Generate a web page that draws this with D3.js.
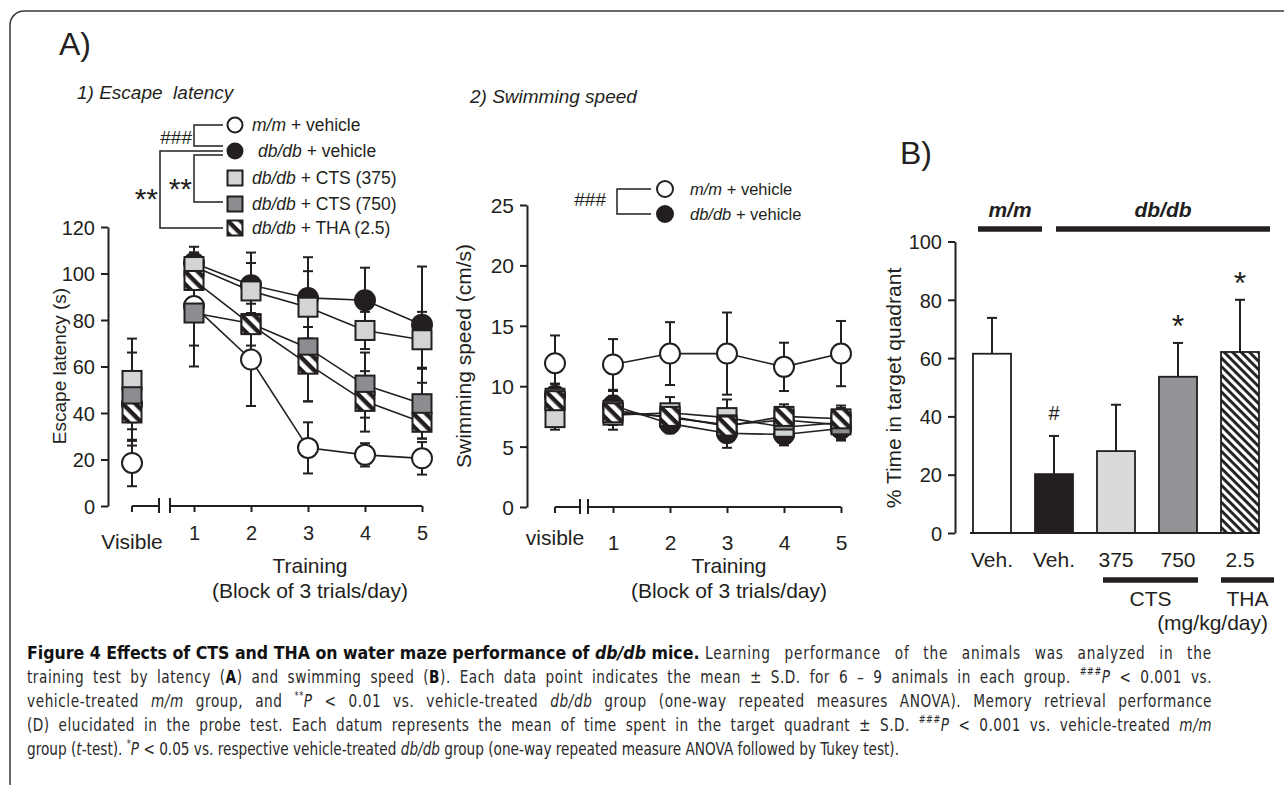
<!DOCTYPE html>
<html>
<head>
<meta charset="utf-8">
<script src="https://cdn.jsdelivr.net/npm/d3@7"></script>
<style>
  body { margin: 0; background: #fff; }
  svg text { font-family: "Liberation Sans", Arial, sans-serif; fill: #231f20; }
</style>
</head>
<body>
<svg id="fig" width="1284" height="785"></svg>
<script>
// ---------------- data ----------------
// index 0 = visible platform, 1..5 = training blocks
var blocks = [1, 2, 3, 4, 5];
var seriesKeys = ["mm", "db", "c375", "c750", "tha"];
var legendItalic = ["m/m", "db/db", "db/db", "db/db", "db/db"];
var legendRest = [" + vehicle", " + vehicle", " + CTS (375)", " + CTS (750)", " + THA (2.5)"];

// 1) escape latency (s)
var latMM = [18.5, 86, 63, 25, 22, 20.5],    latMMsd = [10, 17, 20, 11, 5, 7];
var latDB = [44, 104.5, 95, 89.5, 88.5, 78], latDBsd = [11, 7, 14, 17.5, 14, 25];
var lat375 = [54, 103, 92.5, 85.5, 75.5, 71.5], lat375sd = [18, 6, 12, 15.5, 8, 12];
var lat750 = [47, 83, 78.5, 68, 52, 44],     lat750sd = [19, 23, 12, 23, 14, 15];
var latTHA = [40, 97, 78, 61, 45, 36],       latTHAsd = [14, 12, 9, 16, 13, 7];

// 2) swimming speed (cm/s)
var spdMM = [11.9, 11.8, 12.7, 12.7, 11.6, 12.7], spdMMsd = [2.3, 2.1, 2.6, 3.4, 2.0, 2.7];
var spdDB = [9.2, 8.4, 6.9, 6.1, 6.0, 6.5],       spdDBsd = [1.0, 1.2, 0.8, 1.2, 0.9, 1.0];
var spd375 = [7.4, 7.6, 7.8, 7.4, 6.6, 7.0],      spd375sd = [1.0, 1.2, 1.3, 1.5, 1.1, 1.2];
var spd750 = [9.0, 8.0, 7.4, 6.8, 7.2, 6.8],      spd750sd = [1.2, 1.2, 1.0, 1.3, 1.0, 1.2];
var spdTHA = [8.8, 7.8, 7.5, 6.7, 7.5, 7.3],      spdTHAsd = [1.0, 1.0, 1.0, 1.1, 1.0, 1.1];

// B) probe test, % time in target quadrant
var probeCats = ["Veh.", "Veh.", "375", "750", "2.5"];
var probeMean = [61.5, 20.2, 28.1, 53.6, 62.1];
var probeSD = [12.3, 13.1, 15.9, 11.6, 17.9];
var probeSig = ["", "#", "", "*", "*"];

var INK = "#231f20";
var fills = { mm: "#ffffff", db: INK, c375: "#d3d4d6", c750: "#8b8d90", tha: "url(#hatchS)" };

var svg = d3.select("#fig");
var defs = svg.append("defs");

// small hatch for THA squares (local marker coords)
var pS = defs.append("pattern").attr("id", "hatchS").attr("patternUnits", "userSpaceOnUse")
  .attr("width", 9).attr("height", 9).attr("y", -2.2).attr("patternTransform", "rotate(45)");
pS.append("rect").attr("width", 9).attr("height", 9).attr("fill", "#fff");
pS.append("rect").attr("width", 9).attr("height", 4.4).attr("fill", INK);
// bar hatch
var pB = defs.append("pattern").attr("id", "hatchB").attr("patternUnits", "userSpaceOnUse")
  .attr("width", 6).attr("height", 6).attr("patternTransform", "rotate(45)");
pB.append("rect").attr("width", 6).attr("height", 6).attr("fill", "#fff");
pB.append("rect").attr("width", 6).attr("height", 2.9).attr("fill", INK);

// frame
svg.append("rect").attr("x", 10).attr("y", 11).attr("width", 1300).attr("height", 820)
  .attr("rx", 14).attr("fill", "none").attr("stroke", "#3a3a3a").attr("stroke-width", 1.5);

function marker(sel, key, h) {
  if (key === "mm" || key === "db") {
    sel.append("circle").attr("r", h).attr("fill", fills[key])
      .attr("stroke", INK).attr("stroke-width", 2);
  } else {
    sel.append("rect").attr("x", -h).attr("y", -h).attr("width", 2 * h).attr("height", 2 * h)
      .attr("fill", fills[key]).attr("stroke", INK).attr("stroke-width", 2);
  }
}

function styleAxis(g, fs) {
  g.attr("font-size", fs).attr("font-family", "Liberation Sans, Arial, sans-serif");
  g.selectAll("path,line").attr("stroke", INK).attr("stroke-width", 2);
}

function linePanel(cfg) {
  var g = svg.append("g");
  var x = d3.scaleLinear().domain([1, 5]).range(cfg.xr);
  var y = d3.scaleLinear().domain([0, cfg.ymax]).range(cfg.yr);
  var xv = x(1) - cfg.visGap;
  var px = function (i) { return i === 0 ? xv : x(blocks[i - 1]); };
  var y0 = y(0);

  // y axis
  var ya = g.append("g").attr("transform", "translate(" + cfg.axisX + ",0)")
    .call(d3.axisLeft(y).tickValues(cfg.yticks).tickSize(7).tickSizeOuter(0).tickPadding(6));
  styleAxis(ya, cfg.tickFs);
  ya.selectAll("text").attr("dy", "0.36em");

  // x axis with break
  var xa = g.append("g").attr("transform", "translate(0," + y0 + ")")
    .call(d3.axisBottom(x).tickValues(blocks).tickFormat(d3.format("d"))
      .tickSize(6).tickSizeOuter(0).tickPadding(cfg.numPad));
  styleAxis(xa, cfg.tickFs);
  xa.select(".domain").remove();
  xa.append("line").attr("x1", cfg.brk[1]).attr("x2", x(5)).attr("stroke", INK).attr("stroke-width", 2);
  xa.append("line").attr("x1", xv).attr("x2", cfg.brk[0]).attr("stroke", INK).attr("stroke-width", 2);
  xa.append("line").attr("x1", xv).attr("x2", xv).attr("y2", 6).attr("stroke", INK).attr("stroke-width", 2);
  cfg.brk.forEach(function (b) {
    xa.append("line").attr("x1", b).attr("x2", b).attr("y1", -8).attr("y2", 7)
      .attr("stroke", INK).attr("stroke-width", 2);
  });
  g.append("text").attr("x", xv).attr("y", cfg.visBase).attr("text-anchor", "middle")
    .attr("font-size", 21).text(cfg.visText);
  g.append("text").attr("x", x(3) + 2).attr("y", 573).attr("text-anchor", "middle")
    .attr("font-size", 21).text("Training");
  g.append("text").attr("x", x(3) + 2).attr("y", 598).attr("text-anchor", "middle")
    .attr("font-size", 21).text("(Block of 3 trials/day)");

  // y label
  g.append("text").attr("transform", "translate(" + cfg.ylab[0] + "," + cfg.ylab[1] + ") rotate(-90)")
    .attr("dy", "0.36em").attr("text-anchor", "middle").attr("font-size", cfg.ylabFs).text(cfg.ytitle);
  // title
  g.append("text").attr("x", cfg.title[0]).attr("y", cfg.title[1]).attr("font-size", 19)
    .attr("font-style", "italic").style("white-space", "pre").text(cfg.titleText);

  // connecting lines (training blocks only)
  var line = d3.line().x(function (d) { return px(d.i); }).y(function (d) { return y(d.m); });
  cfg.series.forEach(function (s) {
    var pts = s.mean.map(function (m, i) { return { i: i, m: m }; }).slice(1);
    g.append("path").attr("d", line(pts)).attr("fill", "none")
      .attr("stroke", INK).attr("stroke-width", 1.6);
  });
  // error bars
  cfg.series.forEach(function (s) {
    s.mean.forEach(function (m, i) {
      var xx = px(i), lo = y(m - s.sd[i]), hi = y(m + s.sd[i]);
      var eb = g.append("g").attr("stroke", INK).attr("stroke-width", 2);
      eb.append("line").attr("x1", xx).attr("x2", xx).attr("y1", lo).attr("y2", hi);
      eb.append("line").attr("x1", xx - 5).attr("x2", xx + 5).attr("y1", lo).attr("y2", lo);
      eb.append("line").attr("x1", xx - 5).attr("x2", xx + 5).attr("y1", hi).attr("y2", hi);
    });
  });
  // markers
  cfg.series.forEach(function (s) {
    s.mean.forEach(function (m, i) {
      var mk = g.append("g").attr("transform", "translate(" + px(i) + "," + y(m) + ")");
      marker(mk, s.key, cfg.markH[s.key === "mm" || s.key === "db" ? 0 : 1]);
    });
  });
  return g;
}

var latSeries = [
  { key: "mm", mean: latMM, sd: latMMsd }, { key: "db", mean: latDB, sd: latDBsd },
  { key: "c375", mean: lat375, sd: lat375sd }, { key: "c750", mean: lat750, sd: lat750sd },
  { key: "tha", mean: latTHA, sd: latTHAsd }];
var spdSeries = [
  { key: "mm", mean: spdMM, sd: spdMMsd }, { key: "db", mean: spdDB, sd: spdDBsd },
  { key: "c375", mean: spd375, sd: spd375sd }, { key: "c750", mean: spd750, sd: spd750sd },
  { key: "tha", mean: spdTHA, sd: spdTHAsd }];

linePanel({
  series: latSeries, axisX: 108, xr: [194, 422], yr: [506, 227], ymax: 120,
  yticks: [0, 20, 40, 60, 80, 100, 120], tickFs: 20, visGap: 62, brk: [159, 170],
  numPad: 14, visBase: 549, visText: "Visible", ylab: [59, 366], ylabFs: 19,
  ytitle: "Escape latency (s)", title: [77, 99], titleText: "1) Escape  latency", markH: [10, 9.5]
});
linePanel({
  series: spdSeries, axisX: 527, xr: [613, 841], yr: [507, 205], ymax: 25,
  yticks: [0, 5, 10, 15, 20, 25], tickFs: 21, visGap: 58, brk: [580, 588],
  numPad: 22, visBase: 545, visText: "visible", ylab: [463, 356], ylabFs: 21,
  ytitle: "Swimming speed (cm/s)", title: [470, 103], titleText: "2) Swimming speed", markH: [10, 9.5]
});

// panel letters
svg.append("text").attr("x", 59).attr("y", 55).attr("font-size", 32).text("A)");
svg.append("text").attr("x", 900).attr("y", 164).attr("font-size", 32).text("B)");

// ---- legend, panel 1 ----
var legRows = [125, 151, 178, 204, 228];
var leg1 = svg.append("g");
seriesKeys.forEach(function (k, i) {
  var mk = leg1.append("g").attr("transform", "translate(235," + legRows[i] + ")");
  marker(mk, k, 7.5);
  var t = leg1.append("text").attr("x", i === 1 ? 258 : 252).attr("y", legRows[i]).attr("dy", "0.36em")
    .attr("font-size", 17.5);
  t.append("tspan").attr("font-style", "italic").text(legendItalic[i]);
  t.append("tspan").text(legendRest[i]);
});
function bracket(g, xv, y1, y2, xe) {
  g.append("path").attr("d", "M" + xe + "," + y1 + "H" + xv + "V" + y2 + "H" + xe)
    .attr("fill", "none").attr("stroke", INK).attr("stroke-width", 1.5);
}
bracket(leg1, 194, legRows[0], 146, 223);
bracket(leg1, 160, legRows[1], legRows[4], 223);
bracket(leg1, 194, 155, 202, 223);
leg1.append("text").attr("x", 192).attr("y", 137).attr("dy", "0.36em").attr("text-anchor", "end")
  .attr("font-size", 19).text("###");
leg1.append("text").attr("x", 158).attr("y", 192 + 17).attr("text-anchor", "end")
  .attr("font-size", 30).text("**");
leg1.append("text").attr("x", 192).attr("y", 182 + 17).attr("text-anchor", "end")
  .attr("font-size", 30).text("**");

// ---- legend, panel 2 ----
var leg2Rows = [189, 214];
var leg2 = svg.append("g");
[0, 1].forEach(function (i) {
  var mk = leg2.append("g").attr("transform", "translate(665," + leg2Rows[i] + ")");
  marker(mk, seriesKeys[i], 8);
  var t = leg2.append("text").attr("x", 690).attr("y", leg2Rows[i]).attr("dy", "0.36em").attr("font-size", 16.5);
  t.append("tspan").attr("font-style", "italic").text(legendItalic[i]);
  t.append("tspan").text(legendRest[i]);
});
bracket(leg2, 617, leg2Rows[0], leg2Rows[1], 651);
leg2.append("text").attr("x", 606).attr("y", 199).attr("dy", "0.36em").attr("text-anchor", "end")
  .attr("font-size", 19).text("###");

// ---- panel B ----
var gB = svg.append("g");
var yB = d3.scaleLinear().domain([0, 100]).range([533, 241.5]);
var xB = d3.scaleBand().domain(d3.range(probeCats.length)).range([961, 1271])
  .paddingInner(0.387).paddingOuter(0.1935);
var bw = xB.bandwidth();
var barFill = ["#ffffff", INK, "#d9dadb", "#929497", "url(#hatchB)"];

var yaB = gB.append("g").attr("transform", "translate(955,0)")
  .call(d3.axisLeft(yB).tickValues([0, 20, 40, 60, 80, 100]).tickSize(7).tickSizeOuter(0).tickPadding(6));
styleAxis(yaB, 20);
yaB.selectAll("text").attr("dy", "0.36em");
gB.append("text").attr("transform", "translate(893,388) rotate(-90)").attr("dy", "0.36em")
  .attr("text-anchor", "middle").attr("font-size", 21).text("% Time in target quadrant");

probeMean.forEach(function (v, i) {
  var cx = xB(i) + bw / 2, top = yB(v), et = yB(v + probeSD[i]);
  gB.append("line").attr("x1", cx).attr("x2", cx).attr("y1", top).attr("y2", et)
    .attr("stroke", INK).attr("stroke-width", 2);
  gB.append("line").attr("x1", cx - 5).attr("x2", cx + 5).attr("y1", et).attr("y2", et)
    .attr("stroke", INK).attr("stroke-width", 2);
  gB.append("rect").attr("x", xB(i)).attr("y", top).attr("width", bw).attr("height", yB(0) - top)
    .attr("fill", barFill[i]).attr("stroke", INK).attr("stroke-width", 1.8);
  if (probeSig[i]) {
    var star = probeSig[i] === "*";
    gB.append("text").attr("x", cx).attr("y", star ? et - 25 + 0.585 * 32 : et - 16)
      .attr("text-anchor", "middle").attr("font-size", star ? 32 : 20).text(probeSig[i]);
  }
  gB.append("text").attr("x", cx).attr("y", 567).attr("text-anchor", "middle")
    .attr("font-size", 21).text(probeCats[i]);
});
gB.append("line").attr("x1", 970).attr("x2", xB(4) + bw).attr("y1", yB(0)).attr("y2", yB(0))
  .attr("stroke", INK).attr("stroke-width", 2);

// group bars
function groupBar(x1, x2, yy, label, ly, style) {
  gB.append("line").attr("x1", x1).attr("x2", x2).attr("y1", yy).attr("y2", yy)
    .attr("stroke", INK).attr("stroke-width", 5.5);
  var t = gB.append("text").attr("x", (x1 + x2) / 2).attr("y", ly).attr("text-anchor", "middle")
    .attr("font-size", 21).text(label);
  if (style) t.attr("font-weight", "bold").attr("font-style", "italic");
}
groupBar(xB(0) + 5, xB(0) + bw + 31, 229, "m/m", 217, true);
groupBar(xB(1) + 21, xB(4) + bw + 11, 229, "db/db", 217, true);
groupBar(xB(2) + 6, xB(3) + bw + 1, 580, "CTS", 606, false);
groupBar(xB(4), xB(4) + bw + 15, 580, "THA", 606, false);
gB.append("text").attr("x", 1268).attr("y", 630).attr("text-anchor", "end")
  .attr("font-size", 21).text("(mg/kg/day)");

// ---- caption (justified, condensed) ----
var capTitle = [["Figure 4 Effects of CTS and THA on water maze performance of ", "b"], ["db/db", "bi"], [" mice.", "b"]];
var capLines = [
  [["Learning performance of the animals was analyzed in the", ""]],
  [["training test by latency (", ""], ["A", "b"], [") and swimming speed (", ""], ["B", "b"],
   ["). Each data point indicates the mean \u00b1 S.D. for 6 \u2013 9 animals in each group. ", ""],
   ["###", "sup"], ["P", "i"], [" < 0.001 vs.", ""]],
  [["vehicle-treated ", ""], ["m/m", "i"], [" group, and ", ""], ["**", "sup"], ["P", "i"],
   [" < 0.01 vs. vehicle-treated ", ""], ["db/db", "i"],
   [" group (one-way repeated measures ANOVA). Memory retrieval performance", ""]],
  [["(D) elucidated in the probe test. Each datum represents the mean of time spent in the target quadrant \u00b1 S.D. ", ""],
   ["###", "sup"], ["P", "i"], [" < 0.001 vs. vehicle-treated ", ""], ["m/m", "i"]],
  [["group (", ""], ["t", "i"], ["-test). ", ""], ["*", "sup"], ["P", "i"],
   [" < 0.05 vs. respective vehicle-treated ", ""], ["db/db", "i"],
   [" group (one-way repeated measure ANOVA followed by Tukey test).", ""]]
];
var capBase = [659, 683, 707, 731, 755];
var capLeft = 27, capRight = 1212, lastEnd = 900, headEnd = 700;
function capText(g, segs, yy) {
  var t = g.append("text").attr("x", 0).attr("y", yy).attr("font-size", 18.5)
    .style("font-family", "'DejaVu Sans Condensed', 'Liberation Sans Narrow', sans-serif")
    .style("fill", "#2a2a2a").style("white-space", "pre");
  segs.forEach(function (s, k) {
    var ts = t.append("tspan").text(s[0]);
    if (s[1] === "b" || s[1] === "bi") ts.attr("font-weight", "bold").style("fill", "#111");
    if (s[1] === "i" || s[1] === "bi") ts.attr("font-style", "italic");
    if (s[1] === "sup") ts.attr("font-size", 11).attr("dy", -8);
    if (k > 0 && segs[k - 1][1] === "sup") ts.attr("dy", 8);
  });
  return t;
}
var capHead = svg.append("g");
var th = capText(capHead, capTitle, capBase[0]);
capHead.attr("transform", "translate(" + capLeft + ",0) scale(" +
  ((headEnd - capLeft) / th.node().getComputedTextLength()) + ",1)");
var capBody = svg.append("g");
var bodyTexts = capLines.map(function (segs, li) { return capText(capBody, segs, capBase[li]); });
var sx = (lastEnd - capLeft) / bodyTexts[4].node().getComputedTextLength();
capBody.attr("transform", "translate(" + capLeft + ",0) scale(" + sx + ",1)");
bodyTexts[0].attr("x", (headEnd + 5 - capLeft) / sx);
// justify all but the last line: part of the slack between letters, the rest between words
bodyTexts.forEach(function (t, li) {
  if (li === bodyTexts.length - 1) return;
  var x0 = +t.attr("x"), w = t.node().getComputedTextLength();
  var str = t.text(), n = (str.match(/ /g) || []).length, c = str.length;
  var extra = (capRight - capLeft) / sx - x0 - w;
  t.style("letter-spacing", (0.4 * extra / c) + "px").style("word-spacing", (0.6 * extra / n) + "px");
});
</script>
</body>
</html>
